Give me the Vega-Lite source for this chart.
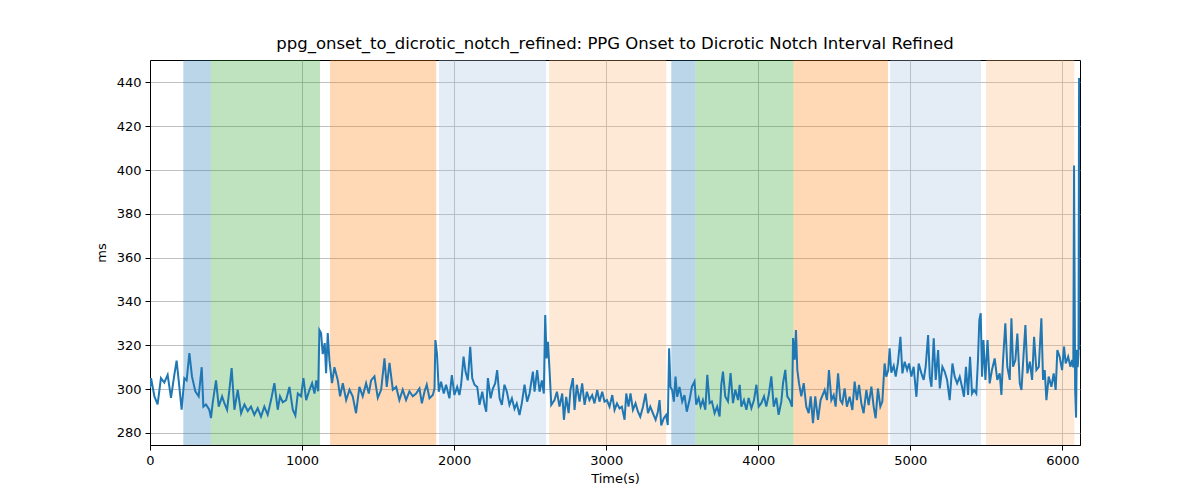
{
  "$schema": "https://vega.github.io/schema/vega-lite/v6.json",
  "width": 930,
  "height": 385,
  "autosize": {"type": "none"},
  "padding": {"left": 150, "top": 60, "right": 120, "bottom": 55},
  "background": "white",
  "title": {"text": "ppg_onset_to_dicrotic_notch_refined: PPG Onset to Dicrotic Notch Interval Refined", "font": "DejaVu Sans", "fontSize": 16.5, "fontWeight": "normal", "color": "black", "offset": 8},
  "config": {
    "view": {"stroke": "black", "strokeWidth": 1},
    "axis": {"font": "DejaVu Sans", "labelFont": "DejaVu Sans", "titleFont": "DejaVu Sans", "labelFontSize": 13, "titleFontSize": 13, "titleFontWeight": "normal", "labelColor": "black", "titleColor": "black", "tickColor": "black", "domainColor": "black", "tickSize": 5, "labelPadding": 4, "labelFlush": false, "grid": true, "gridColor": "#b0b0b0", "gridWidth": 0.8}
  },
  "datasets": {
    "bands": [
      {"start": 219, "end": 400, "segment": "A"},
      {"start": 400, "end": 1118, "segment": "B"},
      {"start": 1184, "end": 1882, "segment": "C"},
      {"start": 1901, "end": 2605, "segment": "D"},
      {"start": 2625, "end": 3395, "segment": "E"},
      {"start": 3428, "end": 3588, "segment": "A"},
      {"start": 3588, "end": 4232, "segment": "B"},
      {"start": 4232, "end": 4853, "segment": "C"},
      {"start": 4868, "end": 5465, "segment": "D"},
      {"start": 5498, "end": 6079, "segment": "E"}
    ],
    "series": [
      {"t":0,"v":300.5},{"t":7,"v":305},{"t":29,"v":296.7},{"t":50,"v":293},{"t":72,"v":305},{"t":94,"v":303},{"t":116,"v":306.5},{"t":138,"v":296},{"t":160,"v":306.5},{"t":175,"v":313},{"t":193,"v":301},{"t":208,"v":290.6},{"t":226,"v":305},{"t":241,"v":304},{"t":259,"v":316.4},{"t":276,"v":305.8},{"t":298,"v":299},{"t":320,"v":296.7},{"t":340,"v":310},{"t":351,"v":292},{"t":368,"v":293},{"t":390,"v":290.6},{"t":401,"v":286.8},
      {"t":412,"v":293.6},{"t":434,"v":304},{"t":452,"v":292},{"t":474,"v":296.7},{"t":489,"v":293.6},{"t":507,"v":290.6},{"t":522,"v":299.7},{"t":537,"v":309.6},{"t":555,"v":290.6},{"t":577,"v":299.7},{"t":599,"v":289},{"t":621,"v":293},{"t":643,"v":290},{"t":664,"v":292},{"t":686,"v":288.3},{"t":708,"v":291.3},{"t":730,"v":287.5},{"t":752,"v":292},{"t":774,"v":288.3},{"t":796,"v":295},{"t":818,"v":302.7},{"t":840,"v":290.6},{"t":855,"v":296.7},
      {"t":873,"v":294},{"t":895,"v":295},{"t":917,"v":301},{"t":939,"v":290.6},{"t":956,"v":288},{"t":972,"v":298},{"t":993,"v":296.7},{"t":1009,"v":305},{"t":1027,"v":295},{"t":1049,"v":299.7},{"t":1066,"v":302.7},{"t":1082,"v":298},{"t":1093,"v":304},{"t":1106,"v":299},{"t":1114,"v":327},{"t":1125,"v":325.6},{"t":1136,"v":316},{"t":1149,"v":321},{"t":1158,"v":307.3},{"t":1169,"v":325.6},{"t":1180,"v":313},{"t":1197,"v":302.7},{"t":1213,"v":310},{"t":1235,"v":304},{"t":1250,"v":296.7},{"t":1268,"v":302.7},{"t":1290,"v":295},{"t":1312,"v":299.7},{"t":1333,"v":296.7},{"t":1355,"v":289},{"t":1377,"v":301},{"t":1399,"v":296.7},{"t":1421,"v":302.7},{"t":1439,"v":298},{"t":1454,"v":304},{"t":1476,"v":305.8},{"t":1498,"v":296},{"t":1520,"v":299.7},{"t":1542,"v":314},{"t":1557,"v":301},{"t":1575,"v":312},{"t":1597,"v":299.7},{"t":1619,"v":301},{"t":1640,"v":295},{"t":1662,"v":299.7},{"t":1684,"v":295},{"t":1706,"v":299},{"t":1728,"v":296.7},{"t":1750,"v":298},
      {"t":1772,"v":300.3},{"t":1788,"v":293.5},{"t":1805,"v":298.8},{"t":1820,"v":302},{"t":1838,"v":295.8},{"t":1860,"v":297.3},{"t":1871,"v":300.3},{"t":1877,"v":322.4},{"t":1888,"v":315.5},{"t":1899,"v":298.8},{"t":1914,"v":303.4},{"t":1932,"v":298},{"t":1947,"v":302},{"t":1969,"v":295.8},{"t":1985,"v":306.4},{"t":2002,"v":297.3},{"t":2020,"v":301},{"t":2035,"v":297.3},{"t":2046,"v":302},{"t":2062,"v":314.8},{"t":2075,"v":308},{"t":2090,"v":304},{"t":2106,"v":319.3},{"t":2119,"v":305},{"t":2134,"v":302},{"t":2152,"v":301},{"t":2167,"v":292.8},{"t":2185,"v":298.8},{"t":2200,"v":292.8},{"t":2211,"v":289.7},{"t":2222,"v":305},{"t":2240,"v":295.8},{"t":2255,"v":300.3},{"t":2270,"v":302.6},{"t":2283,"v":308.7},{"t":2299,"v":295.8},{"t":2314,"v":292.8},{"t":2331,"v":302},{"t":2347,"v":298.8},{"t":2364,"v":292.8},{"t":2380,"v":295.8},{"t":2397,"v":291},{"t":2412,"v":293.5},{"t":2430,"v":288.2},{"t":2445,"v":293.5},{"t":2463,"v":302},{"t":2480,"v":294.3},{"t":2496,"v":298},{"t":2518,"v":308},{"t":2529,"v":298.8},{"t":2546,"v":308.7},{"t":2562,"v":298.8},{"t":2577,"v":304},{"t":2590,"v":298},{"t":2599,"v":333.8},{"t":2608,"v":314},{"t":2617,"v":321.6},{"t":2628,"v":308},{"t":2639,"v":292.8},
      {"t":2660,"v":295},{"t":2676,"v":298.8},{"t":2693,"v":292},{"t":2711,"v":298},{"t":2722,"v":286},{"t":2737,"v":296.5},{"t":2753,"v":289},{"t":2765,"v":299.6},{"t":2781,"v":305},{"t":2792,"v":290.5},{"t":2807,"v":302},{"t":2825,"v":294.3},{"t":2842,"v":302.6},{"t":2858,"v":292.8},{"t":2873,"v":298.8},{"t":2890,"v":295},{"t":2908,"v":297.3},{"t":2923,"v":293.5},{"t":2941,"v":299.6},{"t":2956,"v":294.3},{"t":2974,"v":298.8},{"t":2989,"v":294.3},{"t":3005,"v":295},{"t":3022,"v":292},{"t":3040,"v":297.3},{"t":3055,"v":290.5},{"t":3071,"v":293.5},{"t":3088,"v":291.2},{"t":3103,"v":292},{"t":3121,"v":286},{"t":3132,"v":298},{"t":3147,"v":292},{"t":3160,"v":298},{"t":3176,"v":290.5},{"t":3193,"v":293.5},{"t":3209,"v":289.7},{"t":3224,"v":287.4},{"t":3242,"v":292},{"t":3259,"v":298},{"t":3275,"v":289},{"t":3290,"v":292},{"t":3307,"v":289},{"t":3325,"v":286},{"t":3340,"v":289.7},{"t":3351,"v":295},{"t":3362,"v":283.4},{"t":3379,"v":286.7},{"t":3394,"v":288.2},{"t":3405,"v":283.6},{"t":3414,"v":318.6},{"t":3423,"v":301},{"t":3434,"v":299.6},{"t":3445,"v":294.3},{"t":3456,"v":305.7},{"t":3467,"v":296.5},{"t":3482,"v":301},{"t":3500,"v":294.3},{"t":3515,"v":297.3},{"t":3530,"v":289.7},
      {"t":3548,"v":295},{"t":3564,"v":301.2},{"t":3581,"v":303.5},{"t":3592,"v":292.9},{"t":3608,"v":296},{"t":3621,"v":292},{"t":3636,"v":295},{"t":3652,"v":290.6},{"t":3665,"v":306.5},{"t":3680,"v":293.6},{"t":3695,"v":294.4},{"t":3713,"v":289},{"t":3730,"v":292},{"t":3746,"v":287.5},{"t":3757,"v":302},{"t":3768,"v":308},{"t":3783,"v":296.7},{"t":3801,"v":294.4},{"t":3818,"v":307.3},{"t":3834,"v":293.6},{"t":3849,"v":299.7},{"t":3867,"v":295},{"t":3878,"v":302},{"t":3889,"v":292},{"t":3906,"v":295},{"t":3922,"v":290.6},{"t":3937,"v":296},{"t":3955,"v":291.3},{"t":3972,"v":295},{"t":3988,"v":302},{"t":4003,"v":292},{"t":4020,"v":293.6},{"t":4038,"v":296.7},{"t":4053,"v":292},{"t":4069,"v":297.4},{"t":4086,"v":305.8},{"t":4102,"v":292},{"t":4119,"v":296},{"t":4134,"v":288.3},{"t":4152,"v":294.4},{"t":4163,"v":302.7},{"t":4178,"v":308.8},{"t":4191,"v":296.7},{"t":4207,"v":295},{"t":4222,"v":292},{"t":4229,"v":323.3},{"t":4240,"v":313.4},{"t":4248,"v":327},{"t":4257,"v":308.8},{"t":4268,"v":302.7},{"t":4283,"v":296.7},{"t":4299,"v":302.7},{"t":4316,"v":292},{"t":4332,"v":289},{"t":4345,"v":296.7},{"t":4360,"v":284.5},{"t":4375,"v":296.7},{"t":4393,"v":286},{"t":4410,"v":295},
      {"t":4437,"v":299.6},{"t":4452,"v":295},{"t":4465,"v":308.7},{"t":4481,"v":295},{"t":4496,"v":297.3},{"t":4509,"v":292},{"t":4525,"v":307.2},{"t":4540,"v":295},{"t":4553,"v":293.5},{"t":4568,"v":300.3},{"t":4583,"v":292},{"t":4601,"v":296.5},{"t":4619,"v":290.5},{"t":4634,"v":303.4},{"t":4649,"v":295},{"t":4663,"v":301.9},{"t":4678,"v":293.5},{"t":4693,"v":289},{"t":4711,"v":299.6},{"t":4726,"v":292.7},{"t":4744,"v":301.1},{"t":4759,"v":292},{"t":4772,"v":286.7},{"t":4787,"v":300.3},{"t":4803,"v":292},{"t":4816,"v":294.3},{"t":4831,"v":311.7},{"t":4842,"v":305.7},{"t":4855,"v":308.7},{"t":4864,"v":318.6},{"t":4875,"v":307.5},{"t":4891,"v":310.6},{"t":4904,"v":305.7},{"t":4919,"v":312.2},{"t":4935,"v":323.9},{"t":4948,"v":307.2},{"t":4963,"v":312.5},{"t":4979,"v":308.7},{"t":4992,"v":311.7},{"t":5007,"v":305.7},{"t":5022,"v":310.2},{"t":5040,"v":296.5},{"t":5055,"v":311.7},{"t":5073,"v":307.2},{"t":5088,"v":304.2},{"t":5101,"v":310.2},{"t":5117,"v":324.7},{"t":5128,"v":305.7},{"t":5139,"v":301.1},{"t":5154,"v":323.2},{"t":5167,"v":304.2},{"t":5183,"v":317.8},{"t":5194,"v":300.3},{"t":5211,"v":310.2},{"t":5226,"v":308},{"t":5242,"v":304.2},{"t":5259,"v":295},{"t":5277,"v":311.7},{"t":5292,"v":305.7},{"t":5308,"v":302.6},
      {"t":5325,"v":305.7},{"t":5340,"v":301.1},{"t":5353,"v":296.5},{"t":5366,"v":310.2},{"t":5380,"v":297.3},{"t":5393,"v":314.8},{"t":5406,"v":298},{"t":5419,"v":299.6},{"t":5434,"v":298},{"t":5445,"v":313.3},{"t":5454,"v":331.5},{"t":5463,"v":334.6},{"t":5472,"v":305.7},{"t":5481,"v":322.4},{"t":5494,"v":304.2},{"t":5508,"v":322.4},{"t":5522,"v":302.6},{"t":5537,"v":308.7},{"t":5555,"v":314},{"t":5572,"v":304.2},{"t":5588,"v":307.2},{"t":5599,"v":297.3},{"t":5610,"v":313.3},{"t":5625,"v":330},{"t":5638,"v":310.2},{"t":5654,"v":304.2},{"t":5665,"v":332.3},{"t":5676,"v":310.2},{"t":5691,"v":313.3},{"t":5704,"v":325.4},{"t":5720,"v":302.6},{"t":5731,"v":299.6},{"t":5744,"v":314.8},{"t":5757,"v":329.2},{"t":5770,"v":307.2},{"t":5786,"v":312.5},{"t":5801,"v":304.2},{"t":5814,"v":323.9},{"t":5829,"v":308.7},{"t":5845,"v":310.2},{"t":5862,"v":332.3},{"t":5873,"v":304.2},{"t":5884,"v":308.7},{"t":5895,"v":295},{"t":5910,"v":305.7},{"t":5928,"v":301.1},{"t":5943,"v":307.2},{"t":5956,"v":299.6},{"t":5967,"v":317.8},{"t":5982,"v":314.8},{"t":5998,"v":308.7},{"t":6011,"v":319.4},{"t":6022,"v":311.7},{"t":6038,"v":314.8},{"t":6053,"v":310.2},{"t":6064,"v":313.3},
      {"t":6072,"v":310},{"t":6077,"v":402},{"t":6084,"v":300},{"t":6090,"v":287},{"t":6095,"v":318},{"t":6101,"v":310},{"t":6106,"v":316},{"t":6110,"v":442},{"t":6114,"v":318}
    ]
  },
  "layer": [
    {
      "data": {"name": "bands"},
      "mark": {"type": "rect", "strokeWidth": 0, "opacity": 0.3},
      "encoding": {
        "x": {"field": "start", "type": "quantitative", "scale": {"domain": [0, 6116], "nice": false, "zero": false},
              "axis": {"values": [0, 1000, 2000, 3000, 4000, 5000, 6000], "title": "Time(s)", "titlePadding": 5, "format": "d"}},
        "x2": {"field": "end"},
        "color": {"field": "segment", "type": "nominal", "legend": null,
                  "scale": {"domain": ["A", "B", "C", "D", "E"], "range": ["#1f77b4", "#2ca02c", "#ff7f0e", "#a5c0e1", "#f8b676"]}}
      }
    },
    {
      "data": {"name": "series"},
      "mark": {"type": "line", "color": "#1f77b4", "strokeWidth": 2, "clip": true},
      "encoding": {
        "x": {"field": "t", "type": "quantitative"},
        "y": {"field": "v", "type": "quantitative", "scale": {"domain": [274.5, 450.2], "nice": false, "zero": false},
              "axis": {"values": [280, 300, 320, 340, 360, 380, 400, 420, 440], "title": "ms", "titlePadding": 8}}
      }
    }
  ]
}
